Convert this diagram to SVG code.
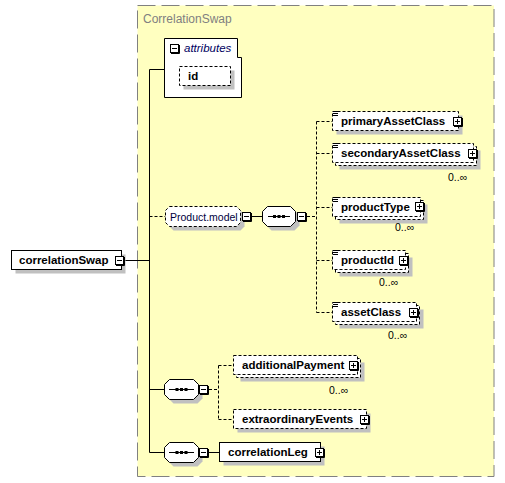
<svg xmlns="http://www.w3.org/2000/svg" xmlns:xlink="http://www.w3.org/1999/xlink" width="505" height="483" viewBox="0 0 505 483">
<style>
.bg{fill:#FFFFC0;stroke:#808080;stroke-width:1;stroke-dasharray:18,6}
.title{font-family:"Liberation Sans",Arial,sans-serif;font-size:12px;fill:#808080}
.box{fill:#fff;stroke:#000;stroke-width:1}
.dbox{fill:#fff;stroke:#000;stroke-width:1;stroke-dasharray:3,2}
.sh{fill:#C0C0C0;stroke:none}
.name{font-family:"Liberation Sans",Arial,sans-serif;font-size:11.5px;font-weight:bold;fill:#000}
.grp{font-family:"Liberation Sans",Arial,sans-serif;font-size:10.5px;fill:#000040}
.attr{font-family:"Liberation Sans",Arial,sans-serif;font-size:11.5px;font-style:italic;fill:#000060}
.occ{font-family:"Liberation Sans",Arial,sans-serif;font-size:10.5px;fill:#000}
.ln{fill:none;stroke:#000;stroke-width:1}
.dl{fill:none;stroke:#000;stroke-width:1;stroke-dasharray:3,2}
.ic{fill:none;stroke:#000;stroke-width:1}
</style>
<defs>
<g id="minus">
<rect x="0.5" y="0.5" width="8" height="8" fill="#fff" stroke="#000"/>
<path d="M9.5,1V9.5H1" fill="none" stroke="#000"/>
<path d="M2,4.5H7" stroke="#000"/>
</g>
<g id="plus">
<rect x="0.5" y="0.5" width="8" height="8" fill="#fff" stroke="#000"/>
<path d="M9.5,1V9.5H1" fill="none" stroke="#000"/>
<path d="M2,4.5H7M4.5,2V7" stroke="#000"/>
</g>
<path id="lines" d="M0,0H5M0,2H5M0,4H5" fill="none" stroke="#000"/>
</defs>

<g id="container">
<rect class="bg" x="137.5" y="5.5" width="356.5" height="471"/>
<text class="title" x="143" y="23">CorrelationSwap</text>
</g>

<g id="connectors">
<path class="ln" d="M125,260.5H149.5M149.5,69.5V452.5M149.5,69.5H164.5M149.5,389.5H164.5M149.5,452.5H164.5"/>
<path class="dl" d="M149.5,216.5H165.5"/>
<path class="ln" d="M252,216.5H262.5"/>
<path class="dl" d="M307,216.5H316.5M316.5,121.5V312.5M316.5,121.5H332.5M316.5,153.5H332.5M316.5,207.5H332.5M316.5,260.5H332.5M316.5,312.5H332.5"/>
<path class="dl" d="M209,389.5H218.5M218.5,365.5V419.5M218.5,365.5H233.5M218.5,419.5H233.5"/>
<path class="ln" d="M209,452.5H219.5"/>
</g>

<g id="correlationSwap">
<rect class="sh" x="15.5" y="254.5" width="110" height="19"/>
<rect class="box" x="11.5" y="250.5" width="110" height="19"/>
<text class="name" x="19" y="264">correlationSwap</text>
<use xlink:href="#minus" x="115" y="256"/>
</g>

<g id="attributes">
<path class="box" d="M164.5,38.5H237.5V57.5H241.5V97.5H164.5Z"/>
<use xlink:href="#minus" x="170" y="44"/>
<text class="attr" x="184" y="52">attributes</text>
</g>

<g id="id">
<rect class="sh" x="183.5" y="70.5" width="51" height="19"/>
<rect class="dbox" x="179.5" y="66.5" width="51" height="19"/>
<text class="name" x="188" y="80">id</text>
</g>

<g id="Product.model">
<path class="sh" d="M173.5,210.5H240.5L244.5,214.5V226.5L240.5,230.5H173.5L169.5,226.5V214.5Z"/>
<path class="dbox" d="M169.5,206.5H236.5L240.5,210.5V222.5L236.5,226.5H169.5L165.5,222.5V210.5Z"/>
<text class="grp" x="170" y="221">Product.model</text>
<use xlink:href="#minus" x="242" y="212"/>
</g>

<g id="sequence1">
<path class="sh" d="M271.5,210.5H294.5L299.5,215.5V225.5L294.5,230.5H271.5L266.5,225.5V215.5Z"/>
<path class="box" d="M267.5,206.5H290.5L295.5,211.5V221.5L290.5,226.5H267.5L262.5,221.5V211.5Z"/>
<path class="ic" d="M268,216.5H290"/>
<path d="M273,216.5H285" stroke="#000" stroke-width="3" stroke-dasharray="3,1.5"/>
<use xlink:href="#minus" x="297" y="212"/>
</g>

<g id="primaryAssetClass">
<rect class="sh" x="336.5" y="115.5" width="126" height="19"/>
<rect class="dbox" x="332.5" y="111.5" width="126" height="19"/>
<use xlink:href="#lines" x="333" y="111.5"/>
<text class="name" x="341" y="125">primaryAssetClass</text>
<use xlink:href="#plus" x="453" y="117"/>
</g>

<g id="secondaryAssetClass">
<rect class="sh" x="339.5" y="150.5" width="141" height="19"/>
<rect class="dbox" x="335.5" y="146.5" width="141" height="19"/>
<rect class="dbox" x="332.5" y="143.5" width="141" height="19"/>
<use xlink:href="#lines" x="333" y="143.5"/>
<text class="name" x="341" y="157">secondaryAssetClass</text>
<use xlink:href="#plus" x="468" y="149"/>
<text class="occ" x="448" y="181">0..∞</text>
</g>

<g id="productType">
<rect class="sh" x="339.5" y="204.5" width="88" height="19"/>
<rect class="dbox" x="335.5" y="200.5" width="88" height="19"/>
<rect class="dbox" x="332.5" y="197.5" width="88" height="19"/>
<use xlink:href="#lines" x="333" y="197.5"/>
<text class="name" x="341" y="211">productType</text>
<use xlink:href="#plus" x="415" y="202"/>
<text class="occ" x="395" y="231">0..∞</text>
</g>

<g id="productId">
<rect class="sh" x="339.5" y="257.5" width="73" height="19"/>
<rect class="dbox" x="335.5" y="253.5" width="73" height="19"/>
<rect class="dbox" x="332.5" y="250.5" width="73" height="19"/>
<use xlink:href="#lines" x="333" y="250.5"/>
<text class="name" x="341" y="264">productId</text>
<use xlink:href="#plus" x="399" y="256"/>
<text class="occ" x="379" y="286">0..∞</text>
</g>

<g id="assetClass">
<rect class="sh" x="339.5" y="309.5" width="84" height="19"/>
<rect class="dbox" x="335.5" y="305.5" width="84" height="19"/>
<rect class="dbox" x="332.5" y="302.5" width="84" height="19"/>
<use xlink:href="#lines" x="333" y="302.5"/>
<text class="name" x="341" y="316">assetClass</text>
<use xlink:href="#plus" x="409" y="308"/>
<text class="occ" x="388" y="339">0..∞</text>
</g>

<g id="sequence2">
<path class="sh" d="M173.5,383.5H197.5L202.5,388.5V398.5L197.5,403.5H173.5L168.5,398.5V388.5Z"/>
<path class="box" d="M169.5,379.5H193.5L198.5,384.5V394.5L193.5,399.5H169.5L164.5,394.5V384.5Z"/>
<path class="ic" d="M169,389.5H194"/>
<path d="M175.5,389.5H187.5" stroke="#000" stroke-width="3" stroke-dasharray="3,1.5"/>
<use xlink:href="#minus" x="199" y="385"/>
</g>

<g id="additionalPayment">
<rect class="sh" x="240.5" y="362.5" width="124" height="19"/>
<rect class="dbox" x="236.5" y="358.5" width="124" height="19"/>
<rect class="dbox" x="233.5" y="355.5" width="124" height="19"/>
<text class="name" x="242" y="369">additionalPayment</text>
<use xlink:href="#plus" x="349" y="361"/>
<text class="occ" x="329" y="394">0..∞</text>
</g>

<g id="extraordinaryEvents">
<rect class="sh" x="237.5" y="413.5" width="133" height="19"/>
<rect class="dbox" x="233.5" y="409.5" width="133" height="19"/>
<text class="name" x="242" y="423">extraordinaryEvents</text>
<use xlink:href="#plus" x="360" y="415"/>
</g>

<g id="sequence3">
<path class="sh" d="M173.5,446.5H197.5L202.5,451.5V461.5L197.5,466.5H173.5L168.5,461.5V451.5Z"/>
<path class="box" d="M169.5,442.5H193.5L198.5,447.5V457.5L193.5,462.5H169.5L164.5,457.5V447.5Z"/>
<path class="ic" d="M169,452.5H194"/>
<path d="M175.5,452.5H187.5" stroke="#000" stroke-width="3" stroke-dasharray="3,1.5"/>
<use xlink:href="#minus" x="199" y="448"/>
</g>

<g id="correlationLeg">
<rect class="sh" x="223.5" y="446.5" width="101" height="19"/>
<rect class="box" x="219.5" y="442.5" width="101" height="19"/>
<text class="name" x="228" y="456">correlationLeg</text>
<use xlink:href="#plus" x="315" y="448"/>
</g>
</svg>
